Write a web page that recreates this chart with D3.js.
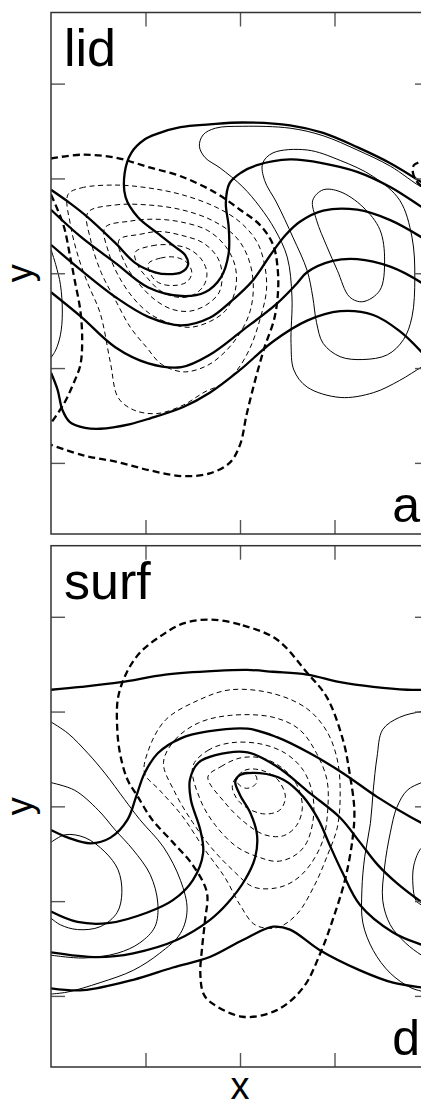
<!DOCTYPE html>
<html>
<head>
<meta charset="utf-8">
<script src="https://cdn.jsdelivr.net/npm/d3@7"></script>
<style>
  html, body { margin: 0; padding: 0; background: #fff; }
  svg { display: block; }
  text { font-family: "Liberation Sans", Arial, sans-serif; fill: #000; }
</style>
</head>
<body>
<svg id="chart" width="421" height="1108"></svg>
<script>
// ---- axes ----
const xDomain = [0, 4];
const yDomain = [-2.75, 2.75];
const xTicks = [1, 2, 3];
const yTicks = [-2, -1, 0, 1, 2];
const panelNames = ["lid", "surf"];
const panelLetters = ["a", "d"];
const xLabel = "x";
const yLabel = "y";

// ---- "lid" field: contour lines (x, y) ----
const lidThick = [
  [[0,0.88],[0.20,0.74],[0.39,0.59],[0.68,0.32],[0.89,0.11],[1.10,0.01],[1.24,-0.01],[1.38,0.01],[1.45,0.09],[1.42,0.19],[1.31,0.28],[1.13,0.42],[0.92,0.59],[0.79,0.80],[0.78,1.06],[0.85,1.27],[0.99,1.41],[1.12,1.47],[1.37,1.54],[1.68,1.57],[2.03,1.59],[2.53,1.56],[2.88,1.48],[3.24,1.33],[3.59,1.16],[3.92,0.96],[4.01,0.90]],
  [[0,0.67],[0.32,0.38],[0.68,0.11],[1.03,-0.15],[1.38,-0.24],[1.63,-0.20],[1.80,-0.04],[1.88,0.21],[1.88,0.49],[1.85,0.74],[1.89,0.95],[2.01,1.06],[2.18,1.14],[2.53,1.20],[2.88,1.16],[3.24,1.07],[3.59,0.91],[3.92,0.70],[4.01,0.64]],
  [[0,0.30],[0.32,0.03],[0.68,-0.25],[1.03,-0.46],[1.38,-0.55],[1.68,-0.47],[1.89,-0.31],[2.14,-0.07],[2.32,0.19],[2.48,0.40],[2.63,0.54],[2.88,0.66],[3.24,0.67],[3.59,0.56],[3.92,0.38],[4.01,0.32]],
  [[0,-0.20],[0.32,-0.46],[0.68,-0.78],[1.03,-0.95],[1.38,-0.99],[1.68,-0.86],[2.03,-0.60],[2.39,-0.32],[2.60,-0.11],[2.71,0.01],[2.98,0.13],[3.24,0.15],[3.59,0.07],[3.92,-0.10],[4.01,-0.17]],
  [[0,-1.05],[0.07,-1.23],[0.12,-1.44],[0.20,-1.57],[0.36,-1.63],[0.52,-1.64],[0.84,-1.59],[1.05,-1.53],[1.40,-1.41],[1.68,-1.26],[2.00,-1.02],[2.35,-0.72],[2.71,-0.50],[3.06,-0.40],[3.41,-0.44],[3.69,-0.61],[3.92,-0.83],[4.01,-0.94]]
];
const lidThickDashed = [
  [[0,1.21],[0.32,1.25],[0.68,1.22],[1.03,1.12],[1.38,1.02],[1.74,0.85],[2.00,0.67],[2.21,0.51],[2.35,0.30],[2.40,0.03],[2.40,-0.23],[2.36,-0.49],[2.26,-0.78],[2.16,-1.13],[2.07,-1.49],[2.00,-1.81],[1.89,-2.00],[1.68,-2.11],[1.40,-2.14],[1.05,-2.08],[0.70,-1.99],[0.34,-1.92],[0,-1.81]],
  [[0,0.83],[0.07,0.67],[0.14,0.48],[0.20,0.19],[0.25,-0.07],[0.31,-0.39],[0.33,-0.70],[0.31,-0.97],[0.23,-1.18],[0.14,-1.37],[0,-1.58]],
  [[3.99,1.22],[3.92,1.18],[3.84,1.14],[3.83,1.06],[3.87,0.97],[3.92,0.92],[3.99,0.88]]
];
const lidThin = [
  [[0,0.25],[0.05,0.09],[0.10,-0.12],[0.12,-0.42],[0.10,-0.65],[0.05,-0.81],[0,-0.89]],
  [[4.01,0.88],[3.92,0.91],[3.59,1.13],[3.24,1.30],[2.88,1.45],[2.53,1.53],[2.03,1.55],[1.74,1.53],[1.61,1.46],[1.57,1.34],[1.63,1.22],[1.79,1.11],[2.03,0.91],[2.21,0.70],[2.37,0.46],[2.50,0.17],[2.55,-0.25],[2.54,-0.74],[2.57,-1.02],[2.71,-1.20],[3.06,-1.31],[3.41,-1.26],[3.69,-1.13],[3.92,-0.99],[4.01,-0.94]]
];
const lidThinLoops = [
  [[2.77,0.77],[2.88,0.88],[3.06,0.86],[3.30,0.70],[3.48,0.46],[3.53,0.14],[3.48,-0.18],[3.30,-0.30],[3.16,-0.25],[3.03,0.03],[2.92,0.28],[2.81,0.56]],
  [[2.24,1.16],[2.35,1.27],[2.71,1.30],[3.06,1.19],[3.41,1.02],[3.69,0.77],[3.82,0.38],[3.85,-0.04],[3.82,-0.46],[3.73,-0.70],[3.56,-0.86],[3.30,-0.91],[3.06,-0.88],[2.88,-0.74],[2.81,-0.52],[2.77,-0.25],[2.71,0.03],[2.56,0.38],[2.39,0.74],[2.26,0.98]]
];
const lidThinDashedLoops = [
  [[0.18,0.83],[0.32,0.90],[0.68,0.93],[1.03,0.90],[1.38,0.83],[1.74,0.70],[2.00,0.54],[2.18,0.33],[2.26,0.09],[2.28,-0.18],[2.21,-0.49],[2.11,-0.78],[1.97,-1.02],[1.81,-1.17],[1.63,-1.25],[1.40,-1.39],[1.12,-1.48],[0.87,-1.44],[0.71,-1.31],[0.63,-0.95],[0.52,-0.42],[0.39,-0.11],[0.29,0.17],[0.21,0.49]],
  [[0.39,0.64],[0.68,0.72],[1.03,0.72],[1.38,0.67],[1.70,0.56],[1.95,0.39],[2.08,0.18],[2.14,-0.10],[2.11,-0.39],[2.00,-0.63],[1.83,-0.84],[1.64,-0.98],[1.40,-1.04],[1.17,-0.96],[1.01,-0.78],[0.84,-0.57],[0.68,-0.28],[0.53,0.01],[0.42,0.35]],
  [[0.57,0.48],[0.84,0.55],[1.10,0.57],[1.38,0.54],[1.66,0.45],[1.85,0.28],[1.95,0.07],[1.95,-0.18],[1.85,-0.39],[1.68,-0.51],[1.47,-0.57],[1.26,-0.53],[1.05,-0.43],[0.87,-0.26],[0.71,-0.02],[0.61,0.22]],
  [[0.72,0.35],[0.94,0.41],[1.15,0.44],[1.38,0.40],[1.61,0.32],[1.76,0.17],[1.81,0.00],[1.78,-0.20],[1.65,-0.33],[1.47,-0.40],[1.28,-0.38],[1.10,-0.28],[0.93,-0.11],[0.79,0.09]],
  [[0.89,0.22],[1.07,0.29],[1.26,0.30],[1.45,0.26],[1.59,0.15],[1.65,0.00],[1.61,-0.14],[1.48,-0.24],[1.32,-0.25],[1.15,-0.18],[1.02,-0.05],[0.92,0.08]],
  [[1.03,0.10],[1.16,0.16],[1.31,0.17],[1.43,0.12],[1.49,0.01],[1.44,-0.09],[1.29,-0.13],[1.14,-0.10],[1.06,-0.02]]
];

// ---- "surf" field: contour lines (x, y) ----
const surfThick = [
  [[0,1.23],[0.32,1.26],[0.74,1.31],[1.21,1.39],[1.74,1.43],[2.08,1.44],[2.35,1.42],[2.71,1.39],[3.06,1.31],[3.41,1.26],[3.77,1.23],[4.01,1.23]],
  [[0,-0.25],[0.18,-0.33],[0.42,-0.39],[0.63,-0.33],[0.81,-0.14],[0.90,0.10],[0.99,0.35],[1.13,0.56],[1.38,0.72],[1.66,0.79],[2.08,0.82],[2.39,0.73],[2.74,0.56],[3.09,0.35],[3.45,0.10],[3.80,-0.11],[4.01,-0.22]],
  [[0,-1.11],[0.28,-1.22],[0.62,-1.23],[1.02,-1.12],[1.29,-0.99],[1.50,-0.78],[1.61,-0.49],[1.58,-0.25],[1.48,0.07],[1.47,0.28],[1.56,0.46],[1.74,0.54],[2.08,0.57],[2.39,0.42],[2.74,0.14],[3.06,-0.12],[3.27,-0.38],[3.46,-0.62],[3.66,-0.81],[3.92,-1.01],[4.01,-1.07]],
  [[0,-1.54],[0.49,-1.59],[0.87,-1.55],[1.33,-1.41],[1.68,-1.20],[1.87,-1.02],[2.05,-0.78],[2.16,-0.54],[2.18,-0.30],[2.11,-0.07],[2.00,0.12],[1.95,0.26],[2.00,0.33],[2.21,0.35],[2.46,0.28],[2.67,0.10],[2.83,-0.14],[2.95,-0.41],[3.08,-0.69],[3.27,-1.04],[3.62,-1.33],[3.92,-1.46],[4.01,-1.49]],
  [[0,-1.92],[0.34,-1.94],[0.87,-1.83],[1.29,-1.70],[1.68,-1.59],[2.03,-1.41],[2.35,-1.27],[2.53,-1.30],[2.85,-1.52],[3.27,-1.73],[3.62,-1.86],[3.92,-1.91],[4.01,-1.92]]
];
const surfThickDashedLoops = [
  [[1.68,1.97],[2.03,1.91],[2.39,1.76],[2.71,1.41],[2.92,1.15],[3.09,0.70],[3.16,0.35],[3.21,-0.04],[3.19,-0.35],[3.11,-0.78],[2.98,-1.20],[2.85,-1.55],[2.67,-1.91],[2.39,-2.15],[2.03,-2.22],[1.68,-2.06],[1.61,-1.97],[1.58,-1.76],[1.60,-1.48],[1.63,-1.20],[1.65,-0.91],[1.50,-0.62],[1.29,-0.38],[1.07,-0.14],[0.92,0.10],[0.81,0.28],[0.73,0.56],[0.70,0.84],[0.71,1.15],[0.80,1.41],[0.94,1.62],[1.15,1.79],[1.40,1.93]]
];
const surfThin = [
  [[0,0.89],[0.18,0.77],[0.39,0.56],[0.57,0.35],[0.78,0.07],[0.94,-0.14],[1.19,-0.43],[1.37,-0.78],[1.44,-1.09],[1.37,-1.34],[1.15,-1.55],[0.87,-1.73],[0.52,-1.86],[0.17,-1.96],[0,-1.98]],
  [[0,0.25],[0.25,0.17],[0.50,-0.04],[0.68,-0.25],[0.87,-0.46],[1.05,-0.72],[1.13,-1.02],[1.10,-1.27],[0.94,-1.44],[0.70,-1.55],[0.34,-1.60],[0,-1.57]],
  [[0,-0.38],[0.15,-0.30],[0.36,-0.33],[0.57,-0.48],[0.71,-0.67],[0.75,-0.91],[0.70,-1.12],[0.52,-1.27],[0.28,-1.30],[0.10,-1.25],[0,-1.18]],
  [[4.01,1.01],[3.92,1.00],[3.69,0.94],[3.51,0.81],[3.45,0.52],[3.41,0.17],[3.38,-0.18],[3.32,-0.53],[3.29,-0.88],[3.30,-1.23],[3.41,-1.52],[3.59,-1.76],[3.80,-1.91],[3.92,-1.95],[4.01,-1.97]],
  [[4.01,0.28],[3.92,0.25],[3.77,0.17],[3.66,-0.01],[3.59,-0.28],[3.53,-0.64],[3.51,-0.99],[3.59,-1.25],[3.75,-1.44],[3.92,-1.57],[4.01,-1.62]],
  [[4.01,-0.41],[3.92,-0.44],[3.84,-0.62],[3.83,-0.83],[3.86,-0.99],[3.92,-1.04],[4.01,-1.07]]
];
const surfThinDashedLoops = [
  [[0.99,0.35],[1.03,0.59],[1.21,0.91],[1.56,1.12],[1.90,1.23],[2.35,1.19],[2.71,1.03],[2.92,0.79],[3.03,0.49],[3.06,0.14],[3.03,-0.22],[2.92,-0.53],[2.79,-0.83],[2.60,-1.14],[2.39,-1.28],[2.16,-1.25],[2.00,-1.04],[1.84,-0.75],[1.63,-0.46],[1.38,-0.09],[1.15,0.17]],
  [[1.19,0.46],[1.31,0.70],[1.56,0.88],[1.90,0.96],[2.35,0.94],[2.63,0.81],[2.81,0.56],[2.92,0.28],[2.93,-0.01],[2.88,-0.35],[2.74,-0.62],[2.58,-0.78],[2.39,-0.86],[2.14,-0.85],[1.92,-0.67],[1.70,-0.44],[1.50,-0.17],[1.31,0.15]],
  [[1.50,0.42],[1.66,0.59],[1.90,0.67],[2.21,0.66],[2.48,0.56],[2.67,0.38],[2.77,0.12],[2.77,-0.17],[2.69,-0.41],[2.56,-0.53],[2.39,-0.58],[2.21,-0.54],[1.97,-0.43],[1.74,-0.20],[1.58,0.07]],
  [[1.66,0.31],[1.80,0.42],[2.00,0.51],[2.23,0.51],[2.44,0.41],[2.60,0.23],[2.66,-0.01],[2.60,-0.20],[2.46,-0.31],[2.26,-0.30],[2.05,-0.17],[1.84,0.04]],
  [[1.92,0.23],[2.05,0.38],[2.23,0.38],[2.40,0.28],[2.48,0.10],[2.42,-0.04],[2.26,-0.08],[2.08,-0.02],[1.96,0.09]],
  [[1.98,0.32],[2.08,0.36],[2.17,0.32],[2.17,0.24],[2.07,0.19],[1.98,0.24]]
];

// ---- layout ----
const svg = d3.select("#chart");
svg.append("rect").attr("width", 421).attr("height", 1108).attr("fill", "#fff");

const frameLeft = 51, frameRight = 429;
const panels = [
  { name: panelNames[0], letter: panelLetters[0], top: 12.5, bottom: 534,
    thick: lidThick, thickDashed: lidThickDashed, thickDashedLoops: [],
    thin: lidThin, thinLoops: lidThinLoops, thinDashedLoops: lidThinDashedLoops },
  { name: panelNames[1], letter: panelLetters[1], top: 545.7, bottom: 1067,
    thick: surfThick, thickDashed: [], thickDashedLoops: surfThickDashedLoops,
    thin: surfThin, thinLoops: [], thinDashedLoops: surfThinDashedLoops }
];

const x = d3.scaleLinear().domain(xDomain).range([frameLeft, frameRight]);

const styles = {
  thick:       { w: 2.3, dash: null },
  thickDashed: { w: 2.3, dash: "7,4" },
  thin:        { w: 1.0, dash: null },
  thinDashed:  { w: 1.0, dash: "5,3.5" }
};

panels.forEach((p, i) => {
  const y = d3.scaleLinear().domain(yDomain).range([p.bottom, p.top]);
  const g = svg.append("g");

  const clipId = "clip" + i;
  svg.append("clipPath").attr("id", clipId)
    .append("rect")
    .attr("x", frameLeft).attr("y", p.top)
    .attr("width", frameRight - frameLeft).attr("height", p.bottom - p.top);

  const open = d3.line().x(d => x(d[0])).y(d => y(d[1])).curve(d3.curveCatmullRom.alpha(0.5));
  const closed = d3.line().x(d => x(d[0])).y(d => y(d[1])).curve(d3.curveCatmullRomClosed.alpha(0.5));

  const lines = g.append("g").attr("clip-path", `url(#${clipId})`);
  function draw(data, gen, st) {
    lines.selectAll(null).data(data).enter().append("path")
      .attr("d", gen)
      .attr("fill", "none")
      .attr("stroke", "#000")
      .attr("stroke-width", st.w)
      .attr("stroke-linejoin", "round")
      .attr("stroke-dasharray", st.dash);
  }
  draw(p.thinDashedLoops, closed, styles.thinDashed);
  draw(p.thin, open, styles.thin);
  draw(p.thinLoops, closed, styles.thin);
  draw(p.thickDashed, open, styles.thickDashed);
  draw(p.thickDashedLoops, closed, styles.thickDashed);
  draw(p.thick, open, styles.thick);

  // inward ticks on all four sides
  const tickLen = 14;
  const axes = [
    g.append("g").attr("transform", `translate(0,${p.bottom})`)
      .call(d3.axisBottom(x).tickValues(xTicks).tickSizeInner(-tickLen).tickSizeOuter(0).tickFormat("")),
    g.append("g").attr("transform", `translate(0,${p.top})`)
      .call(d3.axisTop(x).tickValues(xTicks).tickSizeInner(-tickLen).tickSizeOuter(0).tickFormat("")),
    g.append("g").attr("transform", `translate(${frameLeft},0)`)
      .call(d3.axisLeft(y).tickValues(yTicks).tickSizeInner(-tickLen).tickSizeOuter(0).tickFormat("")),
    g.append("g").attr("transform", `translate(${frameRight},0)`)
      .call(d3.axisRight(y).tickValues(yTicks).tickSizeInner(-tickLen).tickSizeOuter(0).tickFormat(""))
  ];
  axes.forEach(a => {
    a.select(".domain").remove();
    a.selectAll(".tick line").attr("stroke", "#555").attr("stroke-width", 1.4);
  });

  // frame
  g.append("rect")
    .attr("x", frameLeft).attr("y", p.top)
    .attr("width", frameRight - frameLeft).attr("height", p.bottom - p.top)
    .attr("fill", "none").attr("stroke", "#333").attr("stroke-width", 1.5);

  // panel name and letter
  g.append("text")
    .attr("x", frameLeft + 13).attr("y", p.top + 53)
    .attr("font-size", 52)
    .text(p.name);
  g.append("text")
    .attr("x", 420).attr("y", p.bottom - 12)
    .attr("text-anchor", "end")
    .attr("font-size", 50)
    .text(p.letter);

  // y axis title
  const yc = (p.top + p.bottom) / 2;
  g.append("text")
    .attr("transform", `translate(32,${yc}) rotate(-90)`)
    .attr("text-anchor", "middle")
    .attr("font-size", 36)
    .text(yLabel);
});

// x axis title
svg.append("text")
  .attr("x", x(2)).attr("y", 1099)
  .attr("text-anchor", "middle")
  .attr("font-size", 38)
  .text(xLabel);
</script>
</body>
</html>
